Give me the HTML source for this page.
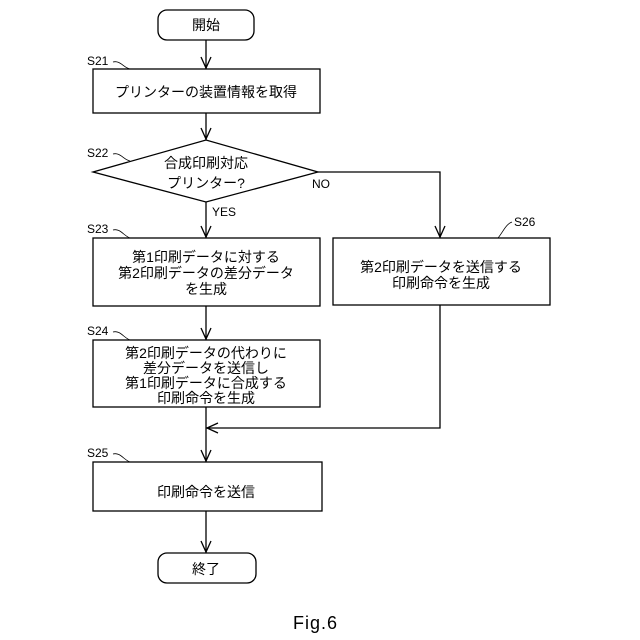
<!DOCTYPE html>
<html><head><meta charset="utf-8"><style>
html,body{margin:0;padding:0;background:#fff}
svg{display:block}
text{font-family:"Liberation Sans","Noto Sans CJK JP",sans-serif;fill:#000}
</style></head><body>
<svg width="640" height="640" viewBox="0 0 640 640" xmlns="http://www.w3.org/2000/svg">
<g fill="none" stroke="#000" stroke-width="1.3">
<rect x="158" y="10" width="96" height="30" rx="9"/>
<rect x="93" y="69" width="227" height="44"/>
<polygon points="93,172 206,140 318,172 206,202"/>
<rect x="93" y="238" width="227" height="68"/>
<rect x="333" y="238" width="217" height="67"/>
<rect x="93" y="340" width="227" height="67"/>
<rect x="93" y="462" width="229" height="49"/>
<rect x="158" y="553" width="98" height="30" rx="9"/>
<line x1="206" y1="40" x2="206" y2="69"/>
<line x1="206" y1="113" x2="206" y2="140"/>
<line x1="206" y1="202" x2="206" y2="238"/>
<line x1="206" y1="306" x2="206" y2="340"/>
<line x1="206" y1="407" x2="206" y2="462"/>
<line x1="206" y1="511" x2="206" y2="553"/>
<polyline points="318,172 440,172 440,238"/>
<polyline points="440,305 440,428 206,428"/>
<polyline points="201,57 206,68 211,57"/>
<polyline points="201,128 206,139 211,128"/>
<polyline points="201,226 206,237 211,226"/>
<polyline points="201,328 206,339 211,328"/>
<polyline points="201,450 206,461 211,450"/>
<polyline points="201,541 206,552 211,541"/>
<polyline points="435,226 440,237 445,226"/>
<polyline points="218,423 207,428 218,433"/>
<path d="M113,62 C120,60 124,68 130,69" stroke-width="0.8"/>
<path d="M113,154 C120,152 124,160 130,161" stroke-width="0.8"/>
<path d="M113,230 C120,228 124,236 130,238" stroke-width="0.8"/>
<path d="M113,332 C120,330 124,338 130,340" stroke-width="0.8"/>
<path d="M113,454 C120,452 124,460 130,462" stroke-width="0.8"/>
<path d="M512,222 C506,224 503,232 498,238" stroke-width="0.8"/>
</g>
<g font-size="14" text-anchor="middle">
<text x="206" y="30">開始</text>
<text x="206" y="97">プリンターの装置情報を取得</text>
<text x="206" y="168">合成印刷対応</text>
<text x="206" y="188">プリンター?</text>
<text x="206" y="262">第1印刷データに対する</text>
<text x="206" y="278">第2印刷データの差分データ</text>
<text x="206" y="294">を生成</text>
<text x="441" y="272">第2印刷データを送信する</text>
<text x="441" y="288">印刷命令を生成</text>
<text x="206" y="358">第2印刷データの代わりに</text>
<text x="206" y="373">差分データを送信し</text>
<text x="206" y="388">第1印刷データに合成する</text>
<text x="206" y="403">印刷命令を生成</text>
<text x="206" y="497">印刷命令を送信</text>
<text x="206" y="574">終了</text>
</g>
<g font-size="12">
<text x="87" y="65">S21</text>
<text x="87" y="157">S22</text>
<text x="87" y="233">S23</text>
<text x="87" y="335">S24</text>
<text x="87" y="457">S25</text>
<text x="514" y="226">S26</text>
<text x="312" y="188">NO</text>
<text x="212" y="216">YES</text>
</g>
<text x="293" y="629" font-size="18" letter-spacing="1">Fig.6</text>
</svg>
</body></html>
